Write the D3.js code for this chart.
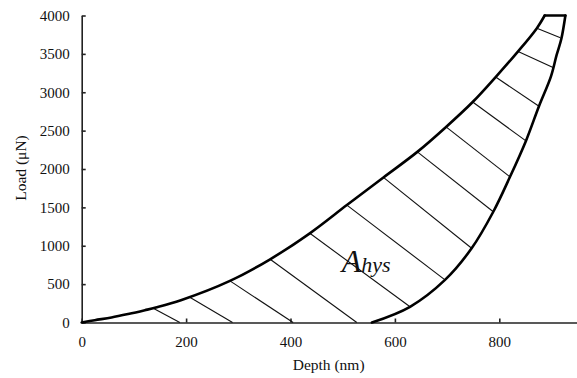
<!DOCTYPE html>
<html>
<head>
<meta charset="utf-8">
<script src="https://cdn.jsdelivr.net/npm/d3@7"></script>
<style>
  html, body { margin: 0; padding: 0; background: #fff; }
  svg { display: block; font-family: 'Liberation Serif', 'Times New Roman', serif; }
  .axis path, .axis line { stroke: #222; }
  .axis text { font-size: 15px; fill: #111; font-family: 'Liberation Serif', serif; }
</style>
</head>
<body>
<div id="chart"></div>
<script>
// loading branch (depth nm, load uN)
const loadDepth = [0, 25, 57, 89, 121, 142, 190, 284, 361, 437, 508, 578, 643, 698, 749, 793, 836, 872, 887];
const loadForce = [0, 30, 65, 110, 160, 195, 290, 542, 824, 1162, 1530, 1890, 2223, 2548, 2873, 3198, 3532, 3835, 4000];

// unloading branch, sorted by depth
const unloadDepth = [556, 629, 696, 747, 788.5, 820.5, 851, 876, 899, 909.6, 918.9, 926.6];
const unloadForce = [0, 205, 555, 967, 1443, 1898, 2366, 2818, 3207, 3480, 3697, 4000];

// hatch lines: start on loading curve, end on unloading curve or axis
const hatchDepth0 = [872, 836, 793, 749, 698, 643, 578, 508, 437, 361, 284, 207, 137];
const hatchForce0 = [3835, 3532, 3198, 2873, 2548, 2223, 1890, 1530, 1162, 824, 542, 329, 185];
const hatchDepth1 = [917, 903, 876, 851, 820.5, 788.5, 747, 696, 629, 527, 405, 289, 188];
const hatchForce1 = [3709, 3323, 2817, 2366, 1898, 1443, 967, 555, 205, 0, 0, 0, 0];

const xTicks = [0, 200, 400, 600, 800];
const yTicks = [0, 500, 1000, 1500, 2000, 2500, 3000, 3500, 4000];
const xDomain = [0, 950];
const yDomain = [0, 4000];
const labelPos = [498, 660];

const W = 577, H = 378;
const PLOT = { left: 81.7, right: 577.6, top: 15.5, bottom: 322.5 };
const SERIF = "'Liberation Serif', 'Times New Roman', serif";

function zip(xs, ys) {
  return xs.map((x, i) => ({ x, y: ys[i] }));
}

const svg = d3.select('#chart').append('svg')
  .attr('width', W)
  .attr('height', H);

const x = d3.scaleLinear().domain(xDomain).range([PLOT.left, PLOT.right]);
const y = d3.scaleLinear().domain(yDomain).range([PLOT.bottom, PLOT.top]);

// axes, ticks pointing inward
function styleAxis(g) {
  g.attr('font-family', SERIF).attr('font-size', 15);
  g.selectAll('path, line').attr('stroke-width', 1.6);
}

svg.append('g')
  .attr('class', 'axis')
  .attr('transform', `translate(0,${PLOT.bottom})`)
  .call(d3.axisBottom(x).tickValues(xTicks).tickSizeInner(-4).tickSizeOuter(0).tickPadding(14).tickFormat(d3.format('d')))
  .call(styleAxis);

svg.append('g')
  .attr('class', 'axis')
  .attr('transform', `translate(${PLOT.left},0)`)
  .call(d3.axisLeft(y).tickValues(yTicks).tickSizeInner(-4).tickSizeOuter(0).tickPadding(12).tickFormat(d3.format('d')))
  .call(styleAxis);

// hatching
const hatch = hatchDepth0.map((d, i) => ({ x0: d, y0: hatchForce0[i], x1: hatchDepth1[i], y1: hatchForce1[i] }));
svg.append('g')
  .selectAll('line')
  .data(hatch)
  .join('line')
  .attr('x1', (d) => x(d.x0))
  .attr('y1', (d) => y(d.y0))
  .attr('x2', (d) => x(d.x1))
  .attr('y2', (d) => y(d.y1))
  .attr('stroke', '#111')
  .attr('stroke-width', 1.1);

// curves
const line = d3.line()
  .x((d) => x(d.x))
  .y((d) => y(d.y))
  .curve(d3.curveCatmullRom.alpha(0.5));

const curves = [
  zip(loadDepth, loadForce),
  zip(unloadDepth, unloadForce),
  [
    { x: loadDepth[loadDepth.length - 1], y: loadForce[loadForce.length - 1] },
    { x: unloadDepth[unloadDepth.length - 1], y: unloadForce[unloadForce.length - 1] },
  ],
];

for (const c of curves) {
  svg.append('path')
    .datum(c)
    .attr('fill', 'none')
    .attr('stroke', '#000')
    .attr('stroke-width', 2.6)
    .attr('stroke-linejoin', 'round')
    .attr('stroke-linecap', 'round')
    .attr('d', line);
}

// axis titles
svg.append('text')
  .attr('x', (PLOT.left + PLOT.right) / 2 - 1)
  .attr('y', 370)
  .attr('text-anchor', 'middle')
  .attr('font-size', '15.5px')
  .attr('fill', '#111')
  .text('Depth (nm)');

svg.append('text')
  .attr('transform', 'translate(26,168) rotate(-90)')
  .attr('text-anchor', 'middle')
  .attr('font-size', '15.5px')
  .attr('fill', '#111')
  .text('Load (μN)');

// area label
const lbl = svg.append('text')
  .attr('x', x(labelPos[0]))
  .attr('y', y(labelPos[1]))
  .attr('font-style', 'italic')
  .attr('fill', '#111');
lbl.append('tspan').attr('font-size', '32px').text('A');
lbl.append('tspan').attr('font-size', '22px').text('hys');
</script>
</body>
</html>
